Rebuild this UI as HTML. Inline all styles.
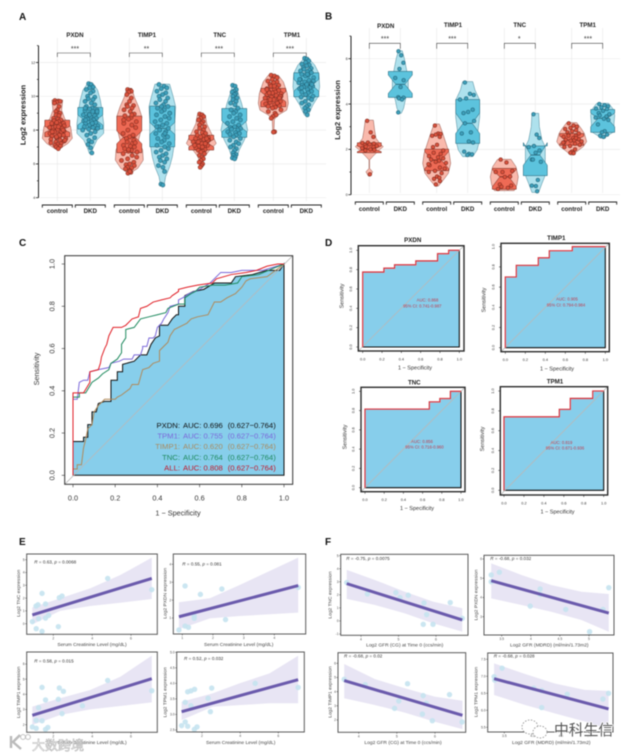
<!DOCTYPE html>
<html lang="en">
<head>
<meta charset="utf-8">
<title>Gene expression, ROC and correlation figure</title>
<style>
html,body{margin:0;padding:0;background:#fff;width:633px;height:756px;overflow:hidden}
svg{display:block;font-family:"Liberation Sans","Noto Sans CJK SC",sans-serif;filter:blur(.5px)}
.letter{font-size:10px;font-weight:700;fill:#111}
.title{font-size:6.2px;font-weight:700;text-anchor:middle;fill:#222}
.stars{font-size:7px;text-anchor:middle;fill:#333}
.ylab{font-size:7.6px;font-weight:700;text-anchor:middle;fill:#222}
.rlab{font-size:7.3px;text-anchor:middle;fill:#333}
.dlab{font-size:5.5px;text-anchor:middle;fill:#333}
.dtitle{font-size:6.2px;font-weight:700;text-anchor:middle;fill:#222}
.auc{font-size:4.2px;text-anchor:middle;fill:#c0394b}
.leg{font-size:7.7px}
.slab{font-size:4.9px;text-anchor:middle;fill:#444}
.stat{font-size:4.6px;fill:#333}
</style>
</head>
<body>
<svg id="fig" width="633" height="756" viewBox="0 0 633 756" xmlns="http://www.w3.org/2000/svg">
<rect width="633" height="756" fill="#fff"/>

<g id="panelA"></g>
<g id="panelB"></g>
<g id="panelC"></g>
<g id="panelD"></g>
<g id="panelE"></g>
<g id="panelF"></g>

<text class="letter" x="19" y="20">A</text>
<text class="letter" x="325" y="19.5">B</text>
<text class="letter" x="19" y="246">C</text>
<text class="letter" x="325" y="246">D</text>
<text class="letter" x="19" y="545">E</text>
<text class="letter" x="325" y="545">F</text>

<text class="title" x="75" y="37">PXDN</text>
<text class="title" x="147" y="37">TIMP1</text>
<text class="title" x="219.7" y="37">TNC</text>
<text class="title" x="292" y="37">TPM1</text>
<text class="stars" x="75" y="51">***</text>
<text class="stars" x="146.5" y="51">**</text>
<text class="stars" x="219" y="51">***</text>
<text class="stars" x="290" y="51">***</text>
<text class="ylab" transform="translate(25.5,115) rotate(-90)">Log2 expression</text>

<text class="title" x="385.7" y="28">PXDN</text>
<text class="title" x="453" y="26.8">TIMP1</text>
<text class="title" x="519.7" y="26.8">TNC</text>
<text class="title" x="587.7" y="26.8">TPM1</text>
<text class="stars" x="385" y="41">***</text>
<text class="stars" x="452.3" y="41">***</text>
<text class="stars" x="519.3" y="41">*</text>
<text class="stars" x="588" y="41">***</text>
<text class="ylab" style="font-size:7.5px" transform="translate(340,110) rotate(-90)">Log2 expression</text>

<text class="rlab" x="178" y="515.5">1 − Specificity</text>
<text class="rlab" transform="translate(38.8,369) rotate(-90)">Sensitivity</text>
<g class="leg">
<text x="180" y="428" text-anchor="end" fill="#111">PXDN:</text>
<text x="183" y="428" fill="#111">AUC: 0.696</text>
<text x="227.7" y="428" fill="#111">(0.627−0.764)</text>
<text x="180" y="438.6" text-anchor="end" fill="#7b68d9">TPM1:</text>
<text x="183" y="438.6" fill="#7b68d9">AUC: 0.755</text>
<text x="227.7" y="438.6" fill="#7b68d9">(0.627−0.764)</text>
<text x="180" y="449.2" text-anchor="end" fill="#a98a5f">TIMP1:</text>
<text x="183" y="449.2" fill="#a98a5f">AUC: 0.620</text>
<text x="227.7" y="449.2" fill="#a98a5f">(0.627−0.764)</text>
<text x="180" y="459.8" text-anchor="end" fill="#1f8a5f">TNC:</text>
<text x="183" y="459.8" fill="#1f8a5f">AUC: 0.764</text>
<text x="227.7" y="459.8" fill="#1f8a5f">(0.627−0.764)</text>
<text x="180" y="470.4" text-anchor="end" fill="#c2182b">ALL:</text>
<text x="183" y="470.4" fill="#c2182b">AUC: 0.808</text>
<text x="227.7" y="470.4" fill="#c2182b">(0.627−0.764)</text>
</g>

<text class="dtitle" x="412.7" y="242">PXDN</text>
<text class="dtitle" x="556.3" y="240">TIMP1</text>
<text class="dtitle" x="414.3" y="384.5">TNC</text>
<text class="dtitle" x="555" y="383.5">TPM1</text>
<text class="dlab" x="415" y="369.5">1 − Specificity</text>
<text class="dlab" x="557" y="370.5">1 − Specificity</text>
<text class="dlab" x="417" y="510">1 − Specificity</text>
<text class="dlab" x="557.5" y="513.5">1 − Specificity</text>
<text class="dlab" transform="translate(343.5,296) rotate(-90)">Sensitivity</text>
<text class="dlab" transform="translate(485.5,300) rotate(-90)">Sensitivity</text>
<text class="dlab" transform="translate(346.5,437) rotate(-90)">Sensitivity</text>
<text class="dlab" transform="translate(484,439) rotate(-90)">Sensitivity</text>
<text class="auc" x="427.5" y="301.5">AUC: 0.868</text>
<text class="auc" x="422.3" y="307.5">95% CI: 0.741-0.987</text>
<text class="auc" x="567" y="300.5">AUC: 0.905</text>
<text class="auc" x="566" y="306.5">95% CI: 0.794-0.984</text>
<text class="auc" x="422" y="443">AUC: 0.856</text>
<text class="auc" x="424.5" y="448.5">95% CI: 0.716-0.960</text>
<text class="auc" x="561.5" y="444">AUC: 0.819</text>
<text class="auc" x="565" y="449.5">95% CI: 0.671-0.936</text>

<text class="stat" x="34.3" y="563.3"><tspan font-style="italic">R</tspan> = 0.63, <tspan font-style="italic">p</tspan> = 0.0068</text>
<text class="stat" x="182.3" y="565.6"><tspan font-style="italic">R</tspan> = 0.55, <tspan font-style="italic">p</tspan> = 0.081</text>
<text class="stat" x="34.3" y="662.3"><tspan font-style="italic">R</tspan> = 0.58, <tspan font-style="italic">p</tspan> = 0.015</text>
<text class="stat" x="184" y="659.9"><tspan font-style="italic">R</tspan> = 0.52, <tspan font-style="italic">p</tspan> = 0.032</text>
<text class="stat" x="346.3" y="559.9"><tspan font-style="italic">R</tspan> = -0.75, <tspan font-style="italic">p</tspan> = 0.0075</text>
<text class="stat" x="490.3" y="559.9"><tspan font-style="italic">R</tspan> = -0.68, <tspan font-style="italic">p</tspan> = 0.032</text>
<text class="stat" x="344" y="657.3"><tspan font-style="italic">R</tspan> = -0.68, <tspan font-style="italic">p</tspan> = 0.02</text>
<text class="stat" x="493.7" y="657.3"><tspan font-style="italic">R</tspan> = -0.68, <tspan font-style="italic">p</tspan> = 0.028</text>

<text class="slab" x="92" y="646">Serum Creatinine Level (mg/dL)</text>
<text class="slab" x="238.7" y="646">Serum Creatinine Level (mg/dL)</text>
<text class="slab" x="92" y="744">Serum Creatinine Level (mg/dL)</text>
<text class="slab" x="240.7" y="744">Serum Creatinine Level (mg/dL)</text>
<text class="slab" transform="translate(20,593.3) rotate(-90)">Log2 TNC expression</text>
<text class="slab" transform="translate(166.7,593.3) rotate(-90)">Log2 PXDN expression</text>
<text class="slab" transform="translate(20,692.3) rotate(-90)">Log2 TIMP1 expression</text>
<text class="slab" transform="translate(166.7,692.3) rotate(-90)">Log2 TPM1 expression</text>

<text class="slab" x="404.7" y="646.4">Log2 GFR (CG) at Time 0 (ccs/min)</text>
<text class="slab" x="549.3" y="646.4">Log2 GFR (MDRD) (ml/min/1.73m2)</text>
<text class="slab" x="403" y="744">Log2 GFR (CG) at Time 0 (ccs/min)</text>
<text class="slab" x="551.3" y="744">Log2 GFR (MDRD) (ml/min/1.73m2)</text>
<text class="slab" transform="translate(331.4,595) rotate(-90)">Log2 TNC expression</text>
<text class="slab" transform="translate(477.4,595) rotate(-90)">Log2 PXDN expression</text>
<text class="slab" transform="translate(331.4,692) rotate(-90)">Log2 TIMP1 expression</text>
<text class="slab" transform="translate(477.4,692) rotate(-90)">Log2 TPM1 expression</text>

<g>
<path d="M11 736 v12 M20 735 l-7 7 l8 7" fill="none" stroke="#bbb" stroke-width="2.4"/>
<circle cx="23" cy="737" r="2.4" fill="#fff" stroke="#bbb" stroke-width=".9"/>
<circle cx="28" cy="737" r="2.4" fill="#fff" stroke="#bbb" stroke-width=".9"/>
<text x="32" y="750" font-size="13" fill="#fff" stroke="#b5b5b5" stroke-width=".55">大数跨境</text>
</g>
<g>
<ellipse cx="530" cy="727" rx="8" ry="7" fill="#fff" stroke="#888" stroke-width=".8" stroke-dasharray="1.5 1.5"/>
<ellipse cx="540" cy="732" rx="7" ry="6" fill="#fff" stroke="#888" stroke-width=".8" stroke-dasharray="1.5 1.5"/>
<text x="554" y="735" font-size="14.8" fill="#555" stroke="#fff" stroke-width="1.4" paint-order="stroke">中科生信</text>
</g>
</svg>

<script>
/* ---------- Panel A data (log2 expression) ---------- */
const groupLabels = ['control','DKD'];
const aTicks = [4,6,8,10,12];
const aMinorTicks = [5,7,9,11,13];
const aPxdnControl = [9.75,9.72,9.7,9.65,9.6,9.4,9.2,9.1,9.0,8.9,8.85,8.7,8.65,8.6,8.55,8.5,8.45,8.4,8.35,8.3,8.25,8.2,8.15,8.1,8.05,8.0,7.95,7.9,7.85,7.8,7.75,7.7,7.65,7.6,7.55,7.5,7.45,7.4,7.35,7.3,7.25,7.2,7.15,7.1,7.05,7.0,6.9,8.4,8.2,8.0,7.9,7.7,7.6,7.4];
const aPxdnDkd = [10.75,10.7,10.55,10.5,10.4,10.3,10.2,10.0,9.95,9.85,9.8,9.7,9.6,9.5,9.4,9.3,9.25,9.2,9.15,9.1,9.0,8.95,8.9,8.85,8.8,8.75,8.7,8.65,8.6,8.55,8.5,8.45,8.4,8.35,8.3,8.25,8.2,8.15,8.1,8.05,8.0,7.9,7.8,7.7,7.55,7.4,7.3,7.15,6.95,6.65,8.6,8.4,8.9,9.1,9.3];
const aTimp1Control = [10.4,10.35,10.3,10.25,10.1,9.9,9.7,9.5,9.45,9.4,9.3,9.2,9.1,8.95,8.85,8.75,8.65,8.5,8.4,8.3,8.15,8.0,7.8,7.7,7.6,7.5,7.4,7.3,7.2,7.1,7.05,7.0,6.9,6.8,6.75,6.7,6.6,6.5,6.4,6.3,6.2,6.1,6.0,5.95,5.9,5.8,5.75,5.7,5.6,5.5,5.45,5.55,6.85,7.25,8.6,8.9];
const aTimp1Dkd = [10.7,10.6,10.5,10.45,10.3,10.2,10.1,10.0,9.9,9.8,9.7,9.6,9.5,9.4,9.3,9.2,9.1,9.0,8.9,8.8,8.7,8.6,8.5,8.4,8.3,8.2,8.1,8.0,7.9,7.8,7.7,7.6,7.5,7.4,7.3,7.2,7.1,7.0,6.9,6.8,6.7,6.6,6.5,6.4,6.3,6.2,6.1,5.9,5.8,5.55,4.8,4.75,9.4,9.0,8.2,7.8];
const aTncControl = [8.95,8.9,8.8,8.7,8.6,8.5,8.4,8.3,8.2,8.1,8.0,7.9,7.85,7.8,7.7,7.65,7.6,7.55,7.5,7.45,7.4,7.35,7.3,7.25,7.2,7.15,7.1,7.05,7.0,6.95,6.9,6.85,6.8,6.75,6.7,6.6,6.5,6.4,6.3,6.2,6.1,6.0,5.9,5.8,7.4,7.3,7.2,7.1,7.0,7.5];
const aTncDkd = [10.65,10.6,10.4,10.3,10.25,10.15,10.1,10.0,9.9,9.8,9.7,9.6,9.5,9.3,9.2,9.1,9.0,8.9,8.8,8.7,8.6,8.5,8.4,8.3,8.2,8.15,8.1,8.05,8.0,7.9,7.85,7.8,7.75,7.7,7.6,7.5,7.4,7.3,7.2,7.1,7.0,6.9,6.8,6.65,6.55,6.5,6.4,6.35,6.3];
const aTpm1Control = [11.25,11.2,11.1,11.0,10.9,10.85,10.8,10.7,10.65,10.6,10.5,10.45,10.4,10.35,10.3,10.25,10.2,10.15,10.1,10.05,10.0,9.95,9.9,9.85,9.8,9.75,9.7,9.65,9.6,9.55,9.5,9.45,9.4,9.35,9.3,9.2,9.1,9.0,8.9,8.8,8.7,7.9,7.88,10.2,10.0,9.8,9.6,10.4,10.6,9.9];
const aTpm1Dkd = [12.25,12.2,12.1,12.0,11.9,11.85,11.8,11.7,11.65,11.6,11.55,11.5,11.45,11.4,11.3,11.25,11.2,11.1,11.0,10.95,10.9,10.85,10.8,10.75,10.7,10.65,10.6,10.55,10.5,10.45,10.4,10.3,10.25,10.2,10.1,10.0,9.95,9.9,9.8,9.7,9.6,9.5,9.4,9.3,9.2,9.1,8.9,11.0,11.3,10.7,10.5];
const aQ1 = [7.61,8.06,6.66,7.01,6.82,7.57,9.38,9.97];
const aMedian = [8.04,8.59,7.57,8.1,7.25,8.2,9.97,10.66];
const aQ3 = [8.59,9.34,8.83,9.42,7.7,9.28,10.47,11.39];
const aNotchLow = [7.86,8.3,7.2,7.75,7.0,7.9,9.68,10.3];
const aNotchHigh = [8.22,8.9,7.95,8.45,7.45,8.55,10.27,11.0];
const aViolinLevels = [
 [9.78,9.18,8.69,8.2,7.51,7.21,6.88],
 [10.76,10.37,9.78,9.18,8.39,7.8,7.41,6.92,6.62],
 [10.47,9.97,9.38,8.79,8,7.41,6.82,6.22,5.73,5.48],
 [10.72,9.97,9.38,8.59,7.41,6.42,5.83,5.24,4.79],
 [8.89,8.39,7.9,7.51,7.21,6.82,6.42,5.89],
 [10.66,10.17,9.58,8.79,8,7.41,6.82,6.26],
 [11.25,10.86,10.17,9.58,9.18,8.89,8.63,7.9],
 [12.18,11.85,11.35,10.56,9.97,9.48,8.89]];
const aViolinDensity = [
 [.36,.29,.49,.89,1,.71,.13],
 [.18,.49,.67,.78,.89,.89,.44,.18,.07],
 [.18,.33,.62,.84,.78,.62,.89,.93,.56,.11],
 [.49,.73,.89,.84,.84,.67,.49,.22,.13],
 [.27,.36,.62,.84,1,.56,.22,.07],
 [.13,.27,.49,.71,.89,.67,.33,.13],
 [.33,.67,.93,1,.89,.33,.07,.04],
 [.22,.56,.84,.89,.78,.44,.13]];

/* ---------- Panel B data ---------- */
const bTicks = [0,2,4,6];
const bMinorTicks = [1,3,5,7];
const bPxdnControl = [3.26,2.75,2.55,2.3,2.28,2.25,2.22,2.2,2.15,2.12,2.1,2.05,2.0,1.98,1.95,0.9];
const bPxdnDkd = [6.33,6.15,5.82,5.55,5.15,5.05,4.75,4.3,4.28,4.25,4.2,3.63];
const bTimp1Control = [3.05,2.7,2.68,2.65,2.6,2.55,2.2,2.1,1.95,1.85,1.8,1.7,1.65,1.6,1.55,1.5,1.45,1.4,1.3,1.2,1.15,1.05,1.0,0.95,0.8,0.7,0.6,0.45,0.75,1.35];
const bTimp1Dkd = [4.95,4.45,4.4,4.25,4.2,3.75,3.65,3.6,3.25,3.15,2.75,2.7,2.35,2.3,1.9,1.8,1.75,1.78];
const bTncControl = [1.55,1.42,1.05,1.0,1.0,0.8,0.78,0.45,0.4,0.35,0.3,0.25];
const bTncDkd = [3.55,2.65,2.5,2.15,2.1,1.95,1.85,1.55,1.45,1.55,0.65,0.4,0.38,0.15];
const bTpm1Control = [3.15,3.05,3.0,2.95,2.9,2.85,2.8,2.75,2.7,2.65,2.6,2.55,2.5,2.45,2.42,2.4,2.38,2.35,2.3,2.25,2.2,2.15,2.1,2.0,1.9,1.85,1.83,2.6,2.5,2.3];
const bTpm1Dkd = [4.0,3.95,3.9,3.85,3.8,3.78,3.7,3.6,3.55,3.5,3.45,3.4,3.35,3.3,3.1,2.8,2.75,2.65,2.6,2.55];
const bQ1 = [1.85,4.29,1.06,2.26,0.24,0.84,2.18,2.75];
const bMedian = [2.01,4.87,1.53,3.15,0.79,1.75,2.41,3.37];
const bQ3 = [2.29,5.44,2.01,4.2,1.16,2.15,2.7,3.76];
const bNotchLow = [1.9,4.47,1.15,2.7,0.35,1.3,2.25,3.0];
const bNotchHigh = [2.15,5.28,1.9,3.6,1.1,2.3,2.58,3.6];
const bViolinLevels = [
 [3.29,2.85,2.49,2.26,2.12,1.97,1.68,1.53,1.16,1.01,.82],
 [6.35,6.01,5.57,5.06,4.62,4.18,3.81,3.59],
 [3.12,2.71,2.26,1.82,1.38,.94,.65,.38],
 [4.99,4.62,4.21,3.44,2.71,2.26,1.97,1.68],
 [1.56,1.24,.79,.43,.18],
 [3.59,3,2.41,2.12,1.68,1.24,.79,.5,.1],
 [3.18,2.93,2.71,2.34,2.12,1.9,1.75],
 [4.03,3.81,3.51,3.15,2.78,2.56,2.49]];
const bViolinDensity = [
 [.29,.38,.48,.76,1,.71,.24,.02,.02,.24,.07],
 [.14,.29,.43,.57,.57,.36,.24,.07],
 [.19,.43,.67,.9,1,.83,.48,.12],
 [.36,.52,.83,.86,.71,.79,.67,.36],
 [.48,.83,1,.9,.71],
 [.24,.29,.48,.71,.71,.71,.67,.48,.24],
 [.36,.67,.9,1.07,.83,.36,.1],
 [.43,.71,.86,.81,.81,.24,.19]];

/* ---------- Panel C ROC data (false positive rate / sensitivity) ---------- */
const rocTicks = [0,0.2,0.4,0.6,0.8,1];
const pxdnFpr = [0,0,.05,.05,.07,.07,.09,.09,.11,.12,.15,.18,.18,.21,.21,.235,.235,.29,.32,.35,.37,.39,.41,.41,.45,.47,.49,.5,.5,.53,.53,.57,.62,.67,.75,.77,.85,.92,.98,1];
const pxdnTpr = [0,.16,.16,.18,.18,.24,.24,.30,.30,.34,.35,.35,.45,.45,.49,.49,.525,.54,.57,.57,.62,.65,.66,.71,.71,.74,.76,.76,.8,.8,.85,.87,.88,.91,.91,.94,.95,.97,.97,1];
const tpm1Fpr = [0,0,.02,.03,.05,.07,.08,.12,.17,.18,.22,.24,.28,.29,.32,.33,.33,.35,.36,.38,.39,.4,.42,.43,.45,.46,.5,.5,.52,.55,.6,.65,.7,.75,.8,.9,1];
const tpm1Tpr = [0,.36,.36,.44,.45,.45,.49,.5,.51,.53,.54,.55,.55,.57,.57,.6,.61,.61,.65,.65,.66,.7,.72,.74,.77,.80,.81,.83,.84,.86,.88,.91,.96,.96,.97,.97,1];
const timp1Fpr = [0,0,.02,.02,.04,.05,.06,.07,.09,.1,.12,.15,.2,.21,.23,.27,.28,.31,.33,.36,.38,.41,.41,.43,.45,.46,.48,.5,.54,.56,.59,.64,.67,.7,.73,.77,.8,.82,.84,.92,.96,1];
const timp1Tpr = [0,.03,.03,.05,.05,.13,.17,.22,.24,.3,.33,.36,.36,.37,.38,.41,.43,.43,.5,.51,.53,.54,.59,.61,.63,.66,.69,.7,.72,.74,.75,.76,.82,.82,.84,.86,.89,.92,.93,.94,.97,1];
const tncFpr = [0,0,.03,.03,.06,.09,.12,.14,.17,.18,.21,.23,.23,.25,.25,.29,.32,.36,.4,.44,.45,.5,.53,.53,.56,.58,.6,.66,.72,.78,.8,.88,.95,1];
const tncTpr = [0,.37,.37,.39,.39,.44,.46,.48,.5,.53,.55,.58,.62,.65,.69,.7,.74,.75,.76,.77,.79,.81,.81,.84,.86,.87,.89,.9,.9,.91,.94,.95,.98,1];
const allFpr = [0,0,.03,.05,.08,.08,.12,.13,.135,.15,.16,.17,.18,.19,.23,.25,.28,.31,.32,.35,.38,.42,.46,.47,.5,.5,.54,.59,.66,.68,.75,.82,.87,.92,.97,1];
const allTpr = [0,.39,.39,.39,.44,.49,.5,.53,.56,.6,.62,.66,.68,.7,.7,.71,.74,.75,.79,.8,.82,.83,.84,.85,.87,.88,.89,.9,.91,.93,.95,.96,.97,.99,1,1];

/* ---------- Panel D ROC data ---------- */
const dPxdnFpr = [0,.22,.33,.55,.775,.89,1];
const dPxdnTpr = [.775,.815,.85,.89,.965,1,1];
const dTimp1Fpr = [0,.11,.33,.44,.67,1];
const dTimp1Tpr = [.70,.815,.89,.96,1,1];
const dTncFpr = [0,.67,.78,.89,1];
const dTncTpr = [.815,.89,.925,1,1];
const dTpm1Fpr = [0,.555,.665,.89,1];
const dTpm1Tpr = [.74,.815,.925,1,1];

/* ---------- Panel E data ---------- */
const e1X = [.92,1.12,1.42,1.24,1.11,1.21,1.42,1.6,1.76,1.6,2.26,2.31,2.45,4.8,7.07];
const e1Y = [.16,-.39,-.6,.39,1.38,1.48,2.37,.44,.65,1.54,-.23,2.03,2.16,3.54,2.66];
const e1FitX = [.92,7.07];
const e1FitY = [.68,3.54];
const e1BandX = [.92,2.35,3.9,5.45,7.07];
const e1BandHigh = [1.28,1.98,2.76,3.8,5.16];
const e1BandLow = [-.05,1.0,1.38,1.64,1.93];

const e2X = [.89,1.09,1.2,1.39,1.39,1.09,1.59,2.29,2.41,4.78];
const e2Y = [.33,.55,.48,1.11,.98,2.79,2.32,2.62,.91,2.71];
const e2FitX = [.89,4.78];
const e2FitY = [1.07,2.81];
const e2BandX = [.89,1.9,2.88,4.78];
const e2BandHigh = [1.88,2.1,2.85,4.37];
const e2BandLow = [.37,.98,1.11,1.3];

const e3X = [.92,1.12,1.6,1.72,1.12,1.42,1.24,1.42,1.6,2.26,2.31,2.52,2.45,3.5,4.8,7.07];
const e3Y = [1.85,1.76,1.69,1.82,2.29,2.26,3.12,4.46,3.63,3.67,4.42,4.2,2.73,3.25,4.92,4.24];
const e3FitX = [.92,7.07];
const e3FitY = [2.62,5.03];
const e3BandX = [.92,2.35,3.9,5.45,7.07];
const e3BandHigh = [3.19,3.74,4.29,5.16,6.55];
const e3BandLow = [1.98,2.64,3.01,3.23,3.47];

const e4X = [.93,1.12,1.25,1.6,1.74,1.12,1.25,1.42,1.61,1.42,2.32,2.51,2.44,4.79,7.04];
const e4Y = [2.64,2.76,2.62,2.52,2.6,3.39,3.73,3.76,3.81,3.28,3.52,3.85,3.09,4.0,3.87];
const e4FitX = [.93,7.04];
const e4FitY = [3.09,4.12];
const e4BandX = [.93,2.56,3.96,5.54,7.04];
const e4BandHigh = [3.41,3.68,4.0,4.32,4.89];
const e4BandLow = [2.82,3.25,3.3,3.36,3.36];

/* ---------- Panel F data ---------- */
const f1X = [3.62,4.17,4.93,5.04,5.26,5.68,5.66,5.75,5.92,6.38,6.7];
const f1Y = [2.94,2.07,2.17,1.79,1.97,1.38,-.26,.49,-.26,1.41,.2];
const f1FitX = [3.62,6.7];
const f1FitY = [2.86,.08];
const f1BandX = [3.62,4.36,5.16,5.92,6.7];
const f1BandHigh = [3.91,3.15,2.25,1.48,.97];
const f1BandLow = [1.69,1.23,.59,-.18,-.82];

const f2X = [3.32,3.32,3.46,3.99,4.16,4.16,4.6,5.01,5.24,5.34];
const f2Y = [5.17,4.82,5.31,3.55,4.44,4.16,3.38,2.22,3.38,4.51];
const f2FitX = [3.32,5.34];
const f2FitY = [4.87,3.19];
const f2BandX = [3.32,3.84,4.35,4.87,5.34];
const f2BandHigh = [5.77,5.17,4.65,4.3,4.18];
const f2BandLow = [3.95,3.61,3.26,2.83,2.22];

const f3X = [3.62,4.17,4.94,5.05,5.28,5.69,5.67,5.77,5.93,6.38,6.71];
const f3Y = [4.87,4.49,2.82,3.34,4.56,3.72,2.42,3.18,1.95,3.79,1.86];
const f3FitX = [3.62,6.72];
const f3FitY = [4.78,2.33];
const f3BandX = [3.62,4.42,5.21,5.99,6.72];
const f3BandHigh = [5.95,4.89,4.24,3.65,3.36];
const f3BandLow = [3.53,3.06,2.52,1.88,1.36];

const f4X = [3.32,3.33,3.46,4.02,4.16,4.16,4.61,5.24,5.34];
const f4Y = [6.99,6.89,7.24,6.65,6.08,6.58,6.47,6.33,6.5];
const f4FitX = [3.32,5.34];
const f4FitY = [6.93,6.04];
const f4BandX = [3.32,3.86,4.39,4.92,5.34];
const f4BandHigh = [7.38,7.07,6.79,6.6,6.57];
const f4BandLow = [6.45,6.16,5.91,5.67,5.45];

const e1XTicks = [2,4,6], e1YTicks = [0,1,2,3,4,5];
const e2XTicks = [1,2,3,4], e2YTicks = [1,2,3,4];
const e3XTicks = [2,4,6], e3YTicks = [2,3,4,5,6];
const e4XTicks = [2,4,6], e4YTicks = [2.5,3,3.5,4,4.5,5];
const f1XTicks = [4,5,6], f1YTicks = [-1,0,1,2,3,4,5];
const f2XTicks = [3.5,4,4.5,5], f2YTicks = [3,4,5,6];
const f3XTicks = [4,5,6], f3YTicks = [2,3,4,5,6];
const f4XTicks = [3.5,4,4.5,5], f4YTicks = [5.5,6,6.5,7,7.5];

/* ---------- Helpers ---------- */
const SVGNS = 'http://www.w3.org/2000/svg';
function make(tag, attrs, parent){
  const n = document.createElementNS(SVGNS, tag);
  for (const k in attrs) n.setAttribute(k, attrs[k]);
  parent.appendChild(n);
  return n;
}
function linear(d0, d1, r0, r1){ return v => r0 + (v - d0) * (r1 - r0) / (d1 - d0); }
const jitterPattern = [-.75,.35,.9,-.2,-.95,.6,.05,-.5,.8,-.35,.45,-.85,.15,.7,-.6,.25,-.1,.95];
function densityAt(levels, density, v){
  for (let i = 0; i < levels.length - 1; i++){
    if (v <= levels[i] && v >= levels[i+1]){
      const t = (levels[i] - v) / (levels[i] - levels[i+1]);
      return density[i] + t * (density[i+1] - density[i]);
    }
  }
  return 0.1;
}

/* ---------- Violin panels ---------- */
function drawViolinPanel(host, L, points, levels, density, q1, med, q3, nLo, nHi, ticks, minor){
  const y = linear(L.d0, L.d1, L.r0, L.r1);
  ticks.forEach(t => {
    const g = make('line', {x1:L.gridLeft, x2:L.gridRight, y1:y(t), y2:y(t), stroke:'#ebebeb', 'stroke-width':.7}, host);
    
    
  });
  L.centers.forEach(c => {
    const g = make('line', {x1:c, x2:c, y1:L.gridTop, y2:L.gridBottom, stroke:'#ebebeb', 'stroke-width':.7}, host);
    
    
  });
  const axis = make('line', {x1:L.axisX, x2:L.axisX, y1:y(L.axisTop), y2:y(L.axisBottom), stroke:'#222', 'stroke-width':1}, host);
  
  
  ticks.forEach(t => {
    const m = make('line', {x1:L.axisX-2.6, x2:L.axisX, y1:y(t), y2:y(t), stroke:'#222', 'stroke-width':.8}, host);
    
    
    const lab = make('text', {x:L.axisX-3.2, y:y(t)+1.3, 'font-size':3.8, 'text-anchor':'end', fill:'#333'}, host);
    lab.textContent = String(t);
    
    
  });
  minor.forEach(t => {
    const m = make('line', {x1:L.axisX-1.6, x2:L.axisX, y1:y(t), y2:y(t), stroke:'#222', 'stroke-width':.7}, host);
    
    
  });
  for (let i = 0; i < L.centers.length; i += 2){
    const a = L.centers[i], b = L.centers[i+1];
    const br = make('path', {d:`M${a} ${L.bracketBottom}V${L.bracketTop}H${b}V${L.bracketBottom}`, fill:'none', stroke:'#444', 'stroke-width':.6}, host);
    
    
  }
  L.centers.forEach((c, i) => {
    const isCtrl = i % 2 === 0;
    const lev = levels[i], den = density[i];
    let right = '', left = '';
    lev.forEach((v, k) => {
      right += (k ? 'L' : 'M') + (c + den[k] * L.maxHalf).toFixed(2) + ' ' + y(v).toFixed(2);
    });
    for (let k = lev.length - 1; k >= 0; k--){
      left += 'L' + (c - den[k] * L.maxHalf).toFixed(2) + ' ' + y(lev[k]).toFixed(2);
    }
    const violin = make('path', {d:right + left + 'Z', fill:isCtrl ? '#f9b9ac' : '#aee1ed', stroke:isCtrl ? '#8a4a3e' : '#3d7f92', 'stroke-width':.45, 'stroke-linejoin':'round'}, host);
    
    
    const h = L.boxHalf, n = L.notchHalf;
    const d = `M${c-h} ${y(q3[i])}H${c+h}V${y(nHi[i])}L${c+n} ${y(med[i])}L${c+h} ${y(nLo[i])}V${y(q1[i])}H${c-h}V${y(nLo[i])}L${c-n} ${y(med[i])}L${c-h} ${y(nHi[i])}Z`;
    const box = make('path', {d:d, fill:isCtrl ? '#ee6a55' : '#5cc3dd', stroke:isCtrl ? '#6d2c22' : '#235f72', 'stroke-width':.5}, host);
    
    
    const medLine = make('line', {x1:c-n, x2:c+n, y1:y(med[i]), y2:y(med[i]), stroke:isCtrl ? '#5a231b' : '#1f5566', 'stroke-width':.7}, host);
    
    
    points[i].forEach((v, k) => {
      const off = jitterPattern[k % jitterPattern.length] * Math.max(densityAt(lev, den, v), .25) * L.maxHalf * L.jitter;
      const dot = make('circle', {cx:c + off, cy:y(v), r:L.dot, fill:isCtrl ? '#d8513c' : '#3d9fba', stroke:isCtrl ? '#6e241a' : '#1c5a6e', 'stroke-width':.5}, host);
      
      
    });
    const hw = L.tickHalf;
    const t = make('path', {d:`M${c-hw} ${L.catTick+2.6}V${L.catTick}H${c+hw}V${L.catTick+2.6}`, fill:'none', stroke:'#222', 'stroke-width':.9}, host);
    
    
    const lb = make('text', {x:c, y:L.catLabel, 'font-size':6.2, 'font-weight':700, 'text-anchor':'middle', fill:'#222'}, host);
    lb.textContent = groupLabels[i % 2];
    
    
  });
}
const aLayout = {d0:4,d1:12,r0:197.7,r1:62.5,axisX:38.5,axisTop:13,axisBottom:4,gridLeft:40,gridRight:326,gridTop:38,gridBottom:201,
  centers:[57.3,90.3,129.3,162.3,201.3,234.3,273.3,306.3],bracketTop:53,bracketBottom:57,maxHalf:15,boxHalf:12.5,notchHalf:6,jitter:.6,dot:2.05,tickHalf:15,catTick:205,catLabel:213};
const bLayout = {d0:0,d1:6,r0:194.7,r1:58.7,axisX:351,axisTop:7,axisBottom:0,gridLeft:352,gridRight:620,gridTop:28,gridBottom:193,
  centers:[369.3,400.3,436.7,467.7,504.3,535.3,571.7,602.7],bracketTop:43.3,bracketBottom:48.7,maxHalf:14,boxHalf:12,notchHalf:4.5,jitter:.7,dot:1.9,tickHalf:14,catTick:202,catLabel:211};
drawViolinPanel(document.getElementById('panelA'), aLayout,
  [aPxdnControl,aPxdnDkd,aTimp1Control,aTimp1Dkd,aTncControl,aTncDkd,aTpm1Control,aTpm1Dkd],
  aViolinLevels, aViolinDensity, aQ1, aMedian, aQ3, aNotchLow, aNotchHigh, aTicks, aMinorTicks);
drawViolinPanel(document.getElementById('panelB'), bLayout,
  [bPxdnControl,bPxdnDkd,bTimp1Control,bTimp1Dkd,bTncControl,bTncDkd,bTpm1Control,bTpm1Dkd],
  bViolinLevels, bViolinDensity, bQ1, bMedian, bQ3, bNotchLow, bNotchHigh, bTicks, bMinorTicks);

/* ---------- ROC panels ---------- */
function stepPath(xs, ys, sx, sy){
  let d = 'M' + sx(xs[0]) + ' ' + sy(ys[0]);
  for (let i = 1; i < xs.length; i++){
    d += 'H' + sx(xs[i]).toFixed(2) + 'V' + sy(ys[i]).toFixed(2);
  }
  return d;
}
function polyPath(xs, ys, sx, sy){
  let d = 'M' + sx(xs[0]) + ' ' + sy(ys[0]);
  for (let i = 1; i < xs.length; i++){
    d += 'L' + sx(xs[i]).toFixed(2) + ' ' + sy(ys[i]).toFixed(2);
  }
  return d;
}
function drawRocFrame(host, L, sx, sy, fillX, fillY, fontSize, pathFn){
  const fillPath = make('path', {d:pathFn(fillX, fillY, sx, sy) + `V${sy(0)}H${sx(0)}Z`, fill:'#87ceeb', stroke:'#111', 'stroke-width':L.curveWidth}, host);
  
  
  const diag = make('line', {x1:L.left, y1:L.bottom, x2:L.right, y2:L.top, stroke:'#b9b9b9', 'stroke-width':L.diagWidth}, host);
  
  
  const frame = make('rect', {x:L.left, y:L.top, width:L.right-L.left, height:L.bottom-L.top, fill:'none', stroke:L.frame, 'stroke-width':L.frameWidth}, host);
  
  
  rocTicks.forEach(t => {
    const tx = make('line', {x1:sx(t), x2:sx(t), y1:L.bottom, y2:L.bottom+L.tick, stroke:'#333', 'stroke-width':.6}, host);
    
    
    const ty = make('line', {x1:L.left-L.tick, x2:L.left, y1:sy(t), y2:sy(t), stroke:'#333', 'stroke-width':.6}, host);
    
    
    const lx = make('text', {x:sx(t), y:L.bottom+L.xLabelGap, 'font-size':fontSize, 'text-anchor':'middle', fill:'#333'}, host);
    lx.textContent = t.toFixed(1);
    
    
    const ly = make('text', {transform:`translate(${L.left-L.yLabelGap},${sy(t)}) rotate(-90)`, 'font-size':fontSize, 'text-anchor':'middle', fill:'#333'}, host);
    ly.textContent = t.toFixed(1);
    
    
  });
}
const cHost = document.getElementById('panelC');
const cLayout = {left:64.7,right:292.7,top:255.7,bottom:484.3,frame:'#333',frameWidth:1,curveWidth:1,diagWidth:.8,tick:3,xLabelGap:16,yLabelGap:10};
const cX = linear(0,1,73,284), cY = linear(0,1,475.3,264);
drawRocFrame(cHost, cLayout, cX, cY, pxdnFpr, pxdnTpr, 7.3, polyPath);
[[tpm1Fpr,tpm1Tpr,'#7b68d9','roc-curve-tpm1'],[timp1Fpr,timp1Tpr,'#b08a5b','roc-curve-timp1'],[tncFpr,tncTpr,'#1f8a5f','roc-curve-tnc'],[allFpr,allTpr,'#e01f26','roc-curve-all']].forEach(s => {
  const curve = make('path', {d:polyPath(s[0], s[1], cX, cY), fill:'none', stroke:s[2], 'stroke-width':1}, cHost);
  
  
});

const dHost = document.getElementById('panelD');
function drawSmallRoc(L, xs, ys){
  const sx = linear(0,1,L.x0,L.x1), sy = linear(0,1,L.y0,L.y1);
  const fx = [0].concat(xs), fy = [0].concat(ys);
  const g = make('g', {}, dHost);
  
  
  drawRocFrame(g, Object.assign({frame:'#2b2b2b',frameWidth:1.4,curveWidth:1.1,diagWidth:.8,tick:2,xLabelGap:9.5,yLabelGap:6.5}, L), sx, sy, fx, fy, 3.9, stepPath);
  let d = `M${sx(0)} ${sy(0)}V${sy(ys[0])}`;
  for (let i = 1; i < xs.length; i++) d += `H${sx(xs[i]).toFixed(2)}V${sy(ys[i]).toFixed(2)}`;
  const halo = make('path', {d:d, fill:'none', stroke:'#f1a3a3', 'stroke-width':1.6}, g);
  
  
  const line = make('path', {d:d, fill:'none', stroke:'#cf1f2e', 'stroke-width':.8}, g);
  
  
}
drawSmallRoc({left:358.3,right:464,top:245.7,bottom:351,x0:362.7,x1:459.3,y0:347,y1:250.3}, dPxdnFpr, dPxdnTpr);
drawSmallRoc({left:501,right:609.3,top:243.3,bottom:351.7,x0:505.3,x1:605.3,y0:347.7,y1:246.7}, dTimp1Fpr, dTimp1Tpr);
drawSmallRoc({left:361,right:465,top:387.3,bottom:491.7,x0:365,x1:461,y0:487.7,y1:391.3}, dTncFpr, dTncTpr);
drawSmallRoc({left:500.3,right:607.7,top:386.7,bottom:495,x0:504,x1:603.7,y0:490.3,y1:391}, dTpm1Fpr, dTpm1Tpr);

/* ---------- Scatter panels ---------- */
function drawScatter(host, L, xs, ys, fitX, fitY, bandX, bandHigh, bandLow, xTicks, yTicks){
  const sx = linear(L.xd[0], L.xd[1], L.xr[0], L.xr[1]);
  const sy = linear(L.yd[0], L.yd[1], L.yr[0], L.yr[1]);
  const g = make('g', {}, host);
  
  
  let d = '';
  bandX.forEach((v, i) => { d += (i ? 'L' : 'M') + sx(v).toFixed(2) + ' ' + sy(bandHigh[i]).toFixed(2); });
  for (let i = bandX.length - 1; i >= 0; i--) d += 'L' + sx(bandX[i]).toFixed(2) + ' ' + sy(bandLow[i]).toFixed(2);
  const band = make('path', {d:d + 'Z', fill:'#e8e5f4'}, g);
  
  
  xs.forEach((v, i) => {
    const p = make('circle', {cx:sx(v), cy:sy(ys[i]), r:2.7, fill:'#c5e3ef', 'fill-opacity':.9}, g);
    
    
  });
  const fit = make('line', {x1:sx(fitX[0]), y1:sy(fitY[0]), x2:sx(fitX[1]), y2:sy(fitY[1]), stroke:'#6a5aac', 'stroke-width':3}, g);
  
  
  const frame = make('rect', {x:L.box[0], y:L.box[1], width:L.box[2]-L.box[0], height:L.box[3]-L.box[1], fill:'none', stroke:'#5a5a5a', 'stroke-width':1}, g);
  
  
  xTicks.forEach(t => {
    const m = make('line', {x1:sx(t), x2:sx(t), y1:L.box[3], y2:L.box[3]+1.5, stroke:'#444', 'stroke-width':.5}, g);
    
    
    const lab = make('text', {x:sx(t), y:L.box[3]+5, 'font-size':3.4, 'text-anchor':'middle', fill:'#555'}, g);
    lab.textContent = String(t % 1 ? t.toFixed(1) : (L.xFixed ? t.toFixed(1) : t));
    
    
  });
  yTicks.forEach(t => {
    const m = make('line', {x1:L.box[0]-1.5, x2:L.box[0], y1:sy(t), y2:sy(t), stroke:'#444', 'stroke-width':.5}, g);
    
    
    const lab = make('text', {x:L.box[0]-2, y:sy(t)+1.2, 'font-size':3.4, 'text-anchor':'end', fill:'#555'}, g);
    lab.textContent = String(t % 1 ? t.toFixed(1) : (L.yFixed ? t.toFixed(1) : t));
    
    
  });
}
const eHost = document.getElementById('panelE');
const fHost = document.getElementById('panelF');
drawScatter(eHost, {box:[26.7,554,157.3,634.3],xd:[2,6],xr:[53.3,131],yd:[0,5],yr:[623.7,559.7]}, e1X, e1Y, e1FitX, e1FitY, e1BandX, e1BandHigh, e1BandLow, e1XTicks, e1YTicks);
drawScatter(eHost, {box:[173.3,554,305.7,634],xd:[1,4],xr:[182.3,274.3],yd:[1,4],yr:[618,564.3]}, e2X, e2Y, e2FitX, e2FitY, e2BandX, e2BandHigh, e2BandLow, e2XTicks, e2YTicks);
drawScatter(eHost, {box:[26.7,652,157.3,732.3],xd:[2,6],xr:[53.3,131],yd:[2,6],yr:[724.7,664]}, e3X, e3Y, e3FitX, e3FitY, e3BandX, e3BandHigh, e3BandLow, e3XTicks, e3YTicks);
drawScatter(eHost, {box:[176.7,652,304.3,732],xd:[2,6],xr:[202,278.3],yd:[2.5,5],yr:[730,652.3],yFixed:true}, e4X, e4Y, e4FitX, e4FitY, e4BandX, e4BandHigh, e4BandLow, e4XTicks, e4YTicks);
drawScatter(fHost, {box:[340.7,554.3,468,635.3],xd:[4,6],xr:[361,436],yd:[-1,5],yr:[634,555.7]}, f1X, f1Y, f1FitX, f1FitY, f1BandX, f1BandHigh, f1BandLow, f1XTicks, f1YTicks);
drawScatter(fHost, {box:[484,555.3,614,635],xd:[3.5,5],xr:[501.7,589],yd:[3,6],yr:[616.7,559]}, f2X, f2Y, f2FitX, f2FitY, f2BandX, f2BandHigh, f2BandLow, f2XTicks, f2YTicks);
drawScatter(fHost, {box:[338,652.7,465.7,732.3],xd:[4,6],xr:[358.7,435],yd:[2,6],yr:[720,663.3]}, f3X, f3Y, f3FitX, f3FitY, f3BandX, f3BandHigh, f3BandLow, f3XTicks, f3YTicks);
drawScatter(fHost, {box:[487.7,653,613,732],xd:[3.5,5],xr:[504.3,589.3],yd:[5.5,7.5],yr:[727.3,659.3],xFixed:true,yFixed:true}, f4X, f4Y, f4FitX, f4FitY, f4BandX, f4BandHigh, f4BandLow, f4XTicks, f4YTicks);
</script>
</body>
</html>
